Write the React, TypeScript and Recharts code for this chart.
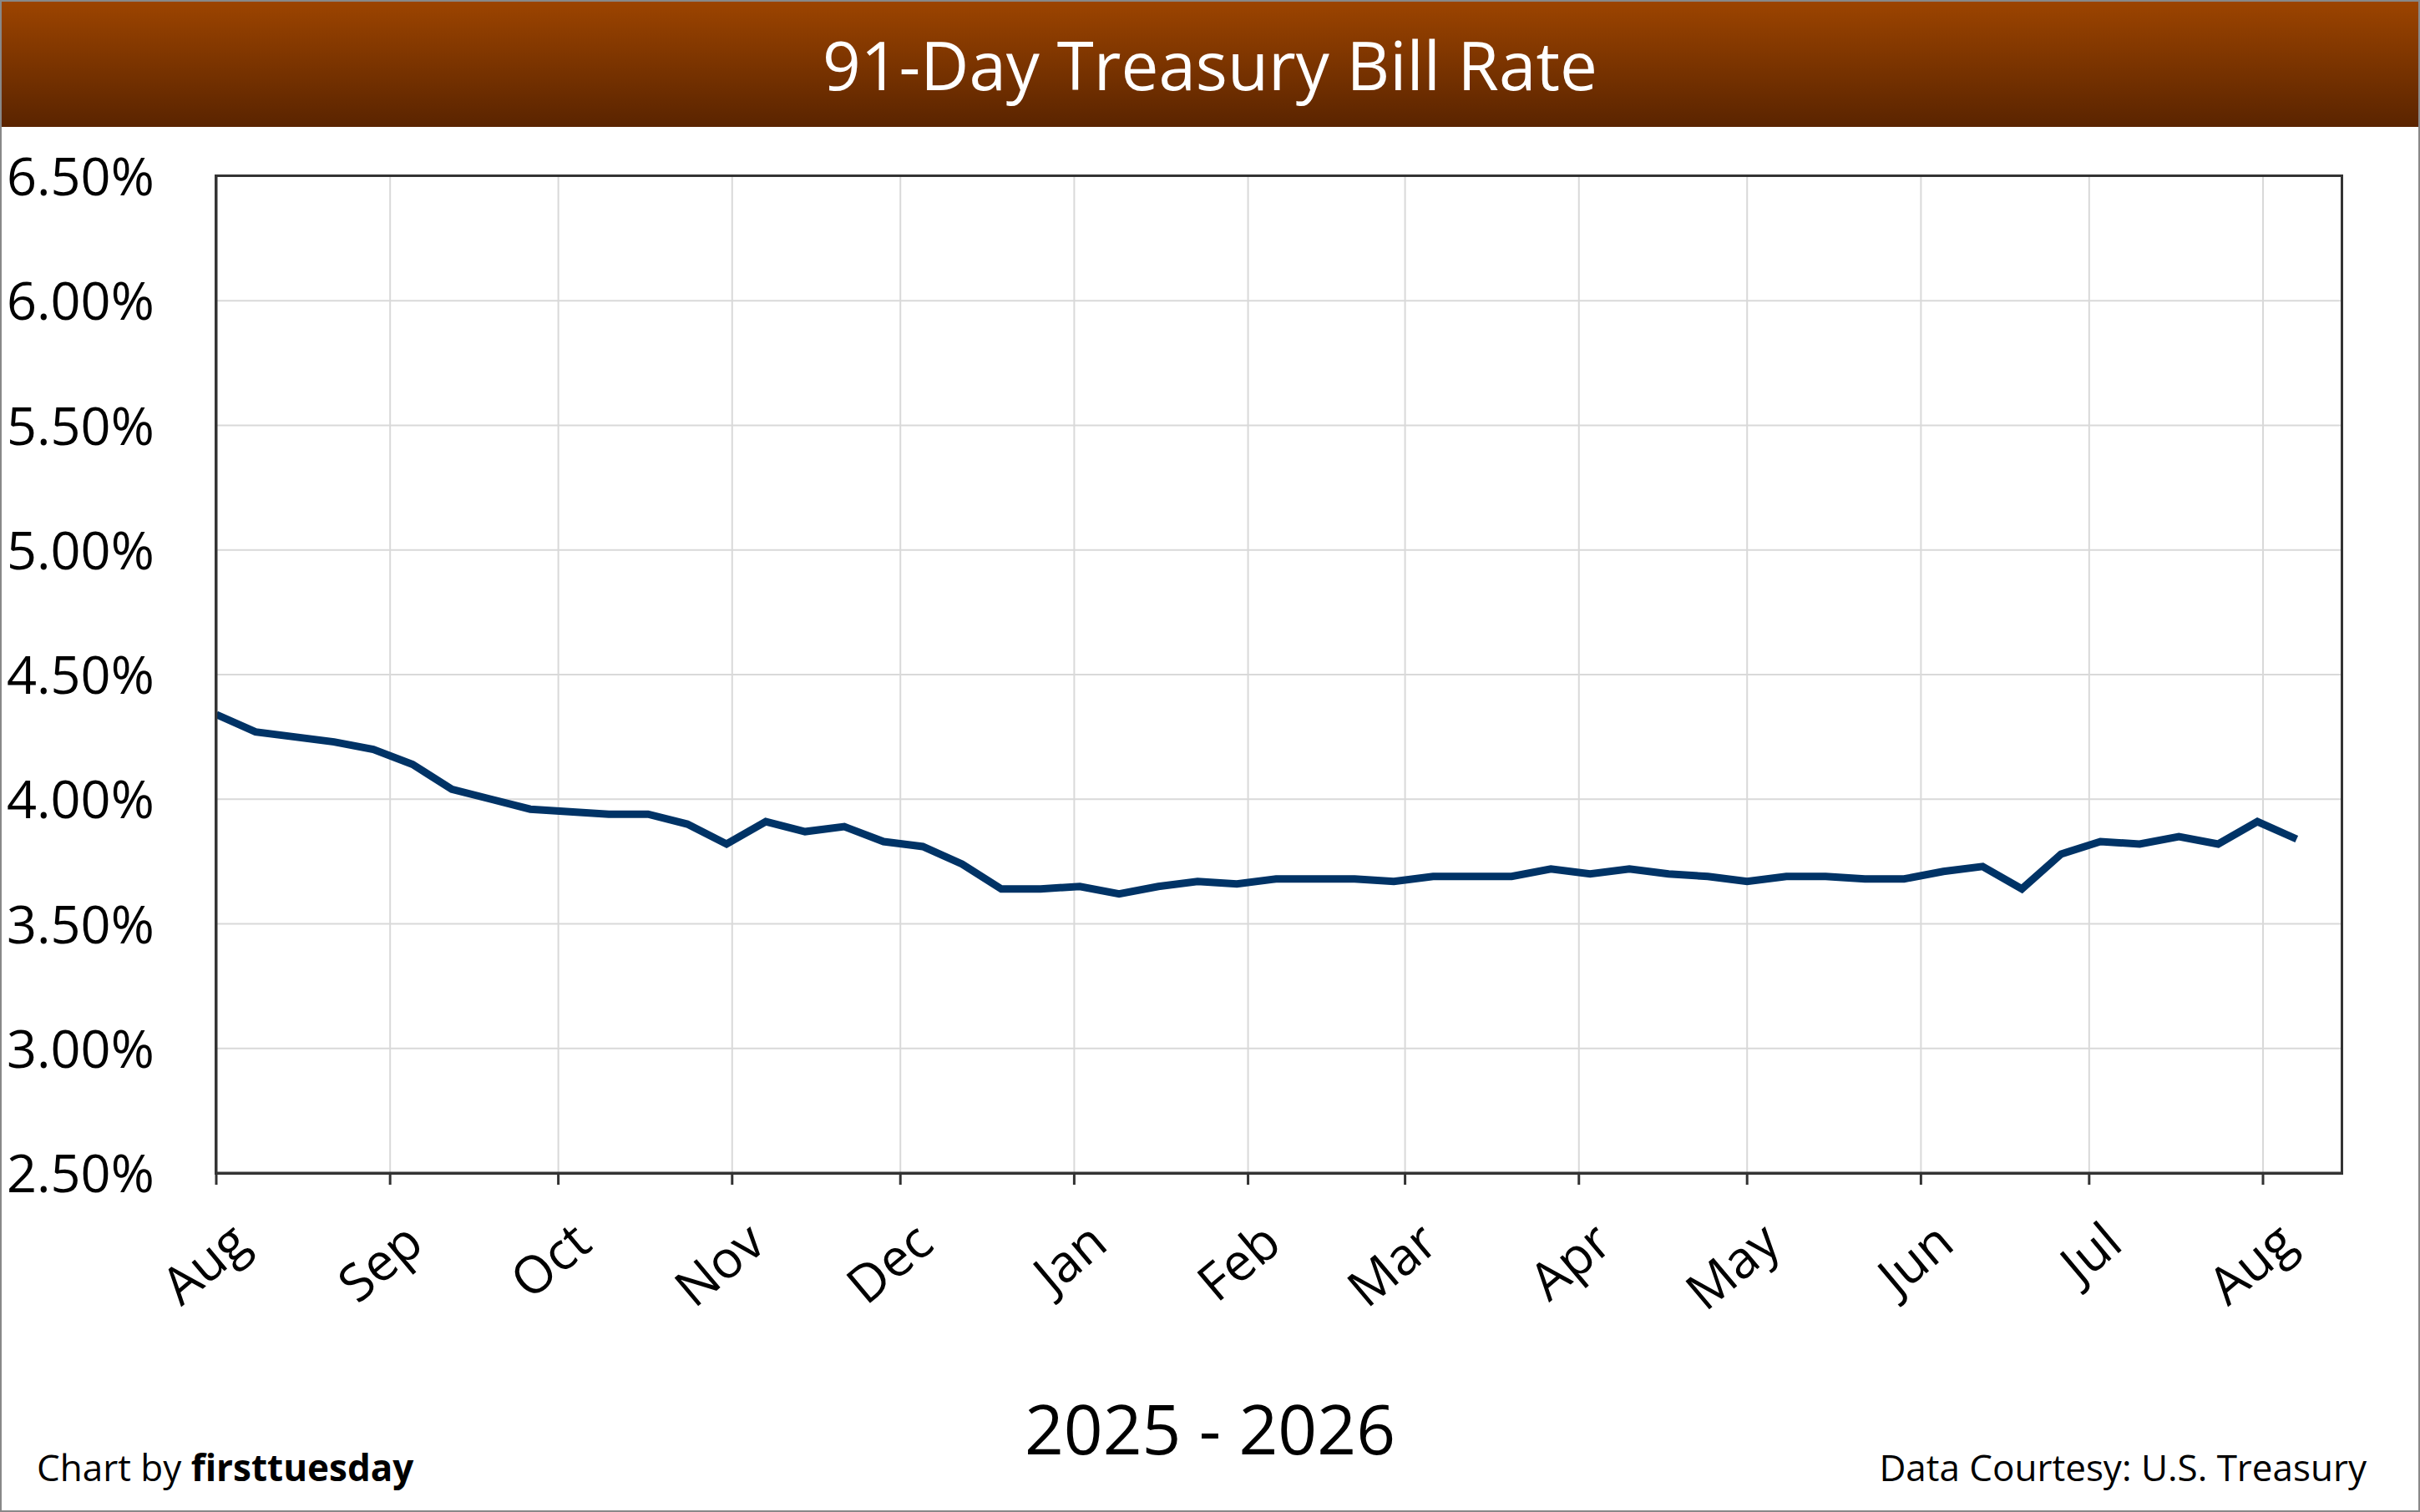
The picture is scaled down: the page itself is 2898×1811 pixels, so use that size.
import { LineChart, Line, XAxis, YAxis, CartesianGrid } from "recharts";

// weekly 91-day T-bill rate, starting Aug 1 2025 (x = days since start)
const rates = [
  4.34, 4.27, 4.25, 4.23, 4.2, 4.14, 4.04, 4.0, 3.96, 3.95, 3.94, 3.94, 3.9, 3.82,
  3.91, 3.87, 3.89, 3.83, 3.81, 3.74, 3.64, 3.64, 3.65, 3.62, 3.65, 3.67, 3.66, 3.68,
  3.68, 3.68, 3.67, 3.69, 3.69, 3.69, 3.72, 3.7, 3.72, 3.7, 3.69, 3.67, 3.69, 3.69,
  3.68, 3.68, 3.71, 3.73, 3.64, 3.78, 3.83, 3.82, 3.85, 3.82, 3.91, 3.84,
];
const monthLabels = ["Aug", "Sep", "Oct", "Nov", "Dec", "Jan", "Feb", "Mar", "Apr", "May", "Jun", "Jul", "Aug"];
const monthDays = [0, 31, 61, 92, 122, 153, 184, 212, 243, 273, 304, 334, 365];
const yTicks = [2.5, 3.0, 3.5, 4.0, 4.5, 5.0, 5.5, 6.0, 6.5];

const data = rates.map((r, i) => ({ day: i * 7, rate: r }));

const W = 2898;
const H = 1811;
const PLOT = { left: 257, right: 2802, top: 209, bottom: 1403 };
const FONT = "'Open Sans', 'DejaVu Sans', sans-serif";

function YTick(props: any) {
  const { y, payload } = props;
  return (
    <text x={6} y={y} dy={23} fontSize={63} fontFamily={FONT} fill="#000" textAnchor="start">
      {payload.value.toFixed(2)}%
    </text>
  );
}

function XTick(props: any) {
  const { x, y, payload } = props;
  const idx = monthDays.indexOf(payload.value);
  return (
    <g transform={`translate(${x + 30},${y + 58})`}>
      <text fontSize={62} fontFamily={FONT} fill="#000" textAnchor="end" transform="rotate(-40)" dy={20}>
        {monthLabels[idx]}
      </text>
    </g>
  );
}

export default function App() {
  return (
    <div style={{ position: "absolute", left: 0, top: 0, width: W, height: H, background: "#fff", fontFamily: FONT, boxSizing: "border-box", border: "2px solid #888" }}>
      <div
        style={{
          position: "absolute", left: 0, top: 0, width: "100%", height: 150,
          background: "linear-gradient(#9c4400, #5a2400)", color: "#fff",
          fontSize: 80, lineHeight: "150px", textAlign: "center",
        }}
      >
        91-Day Treasury Bill Rate
      </div>
      <div style={{ position: "absolute", left: 0, top: 0 }}>
        <LineChart
          width={W - 4}
          height={H - 4}
          data={data}
          margin={{ top: PLOT.top, right: W - 4 - PLOT.right, bottom: 0, left: 0 }}
        >
          <CartesianGrid stroke="#d9d9d9" strokeWidth={2} verticalValues={monthDays} horizontalValues={yTicks} />
          <XAxis
            dataKey="day"
            type="number"
            domain={[0, 379]}
            ticks={monthDays}
            interval={0}
            height={H - 4 - PLOT.bottom}
            axisLine={{ stroke: "#333", strokeWidth: 3 }}
            tickLine={{ stroke: "#333", strokeWidth: 3 }}
            tickSize={14}
            tick={<XTick />}
          />
          <YAxis
            type="number"
            domain={[2.5, 6.5]}
            ticks={yTicks}
            interval={0}
            width={PLOT.left}
            axisLine={{ stroke: "#333", strokeWidth: 3 }}
            tickLine={false}
            tick={<YTick />}
          />
          <Line dataKey="rate" stroke="#003366" strokeWidth={9} dot={false} isAnimationActive={false} />
        </LineChart>
      </div>
      <div
        style={{
          position: "absolute", left: PLOT.left - 2, top: PLOT.top - 2,
          width: PLOT.right - PLOT.left + 4, height: PLOT.bottom - PLOT.top + 4,
          border: "3px solid #333", boxSizing: "border-box", pointerEvents: "none",
        }}
      />
      <div style={{ position: "absolute", left: 0, width: "100%", top: 1652, textAlign: "center", fontSize: 82 }}>
        2025 - 2026
      </div>
      <div style={{ position: "absolute", left: 42, top: 1725, fontSize: 44 }}>
        Chart by <b>firsttuesday</b>
      </div>
      <div style={{ position: "absolute", right: 62, top: 1725, fontSize: 44 }}>
        Data Courtesy: U.S. Treasury
      </div>
    </div>
  );
}
